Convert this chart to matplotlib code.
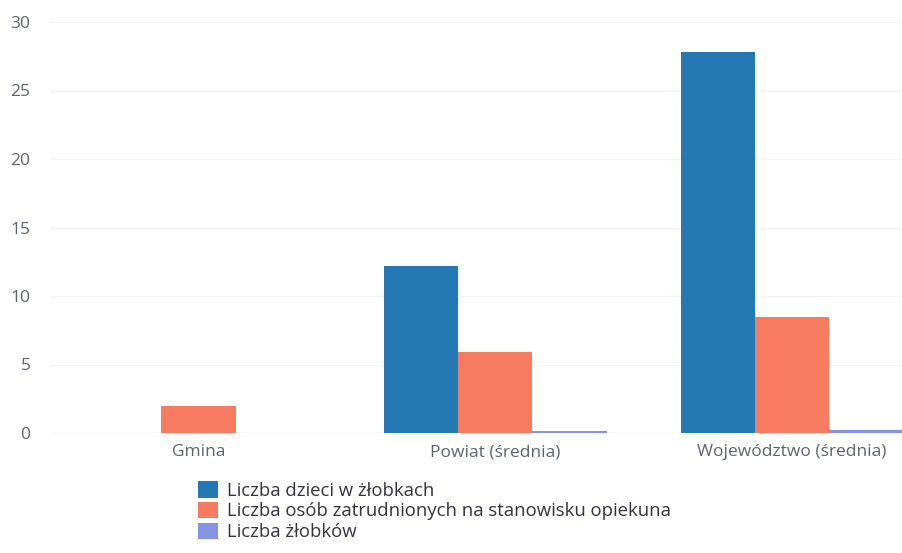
import matplotlib
matplotlib.use("Agg")
import matplotlib.pyplot as plt
from matplotlib.patches import Patch
import numpy as np

plt.rcParams['font.family'] = ['Open Sans', 'DejaVu Sans']

categories = ["Gmina", "Powiat (średnia)", "Województwo (średnia)"]
series_names = ["Liczba dzieci w żłobkach",
                "Liczba osób zatrudnionych na stanowisku opiekuna",
                "Liczba żłobków"]
dzieci = [0, 12.2, 27.8]
opiekunowie = [2.0, 5.9, 8.5]
zlobki = [0, 0.15, 0.2]
colors = ["#2479b5", "#f77b60", "#8394e4"]

fig = plt.figure(figsize=(9.02, 5.53), dpi=100)
ax = fig.add_axes([50/902, 120/553, 852/902, 411/553])

x = np.arange(len(categories))
w = 0.25
for i, (vals, c) in enumerate(zip([dzieci, opiekunowie, zlobki], colors)):
    ax.bar(x + (i - 1) * w, vals, width=w, color=c, zorder=2)

ax.set_xlim(-0.5, 2.37)
ax.set_ylim(0, 30)
ax.set_yticks([0, 5, 10, 15, 20, 25, 30])
ax.set_xticks(x)
ax.set_xticklabels(categories)
ax.tick_params(axis='both', length=0, labelsize=12.5, labelcolor="#5f6275")
ax.tick_params(axis='y', pad=14)
ax.tick_params(axis='x', pad=8)
ax.grid(axis='y', color="#f3f3f3", linewidth=1, zorder=0)
ax.axhline(0, color="#e6e6e6", linewidth=1, zorder=1)
for s in ax.spines.values():
    s.set_visible(False)

handles = [Patch(facecolor=c, label=n) for c, n in zip(colors, series_names)]
fig.legend(handles=handles, loc="upper left", bbox_to_anchor=(198/902, 1 - 481/553),
           frameon=False, fontsize=13.3, labelcolor="#333344",
           handlelength=1.1, handleheight=1.0, handletextpad=0.45,
           labelspacing=0.12, borderpad=0, borderaxespad=0)

fig.savefig("out.png", dpi=100)
